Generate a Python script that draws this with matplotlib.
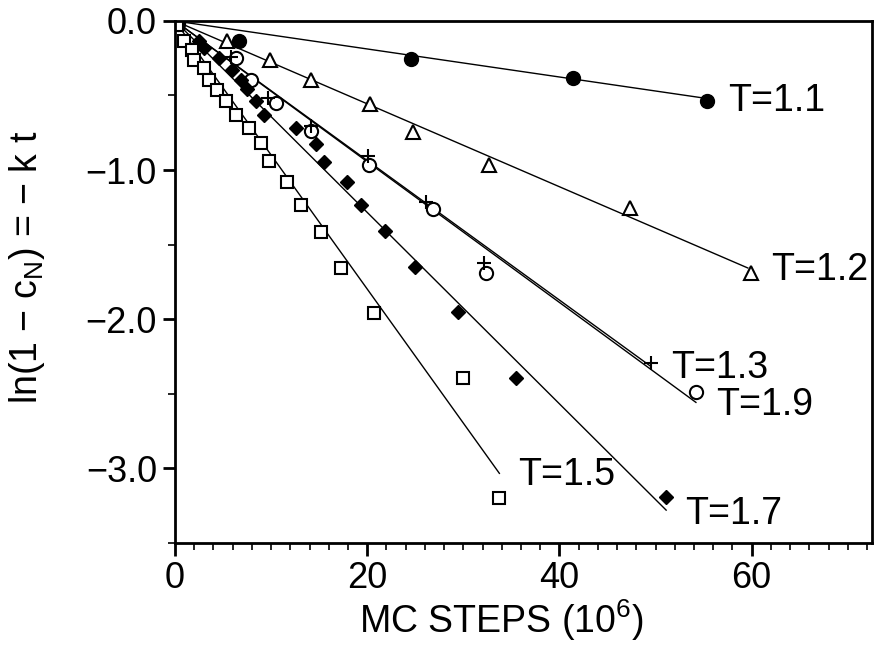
import matplotlib
matplotlib.use('Agg')
import matplotlib.pyplot as plt
from matplotlib.ticker import MultipleLocator, FuncFormatter
import numpy as np

plt.rcParams['font.family'] = ['Liberation Sans', 'DejaVu Sans']
plt.rcParams['mathtext.default'] = 'regular'

# measured points, MC steps (10^6) vs ln(1 - c_N)
t11 = [0.3, 6.7, 24.6, 41.4, 55.4]
y11 = [-0.01, -0.137, -0.253, -0.383, -0.54]

t12 = [0.2, 5.45, 9.86, 14.1, 20.3, 24.8, 32.7, 47.3, 59.97]
y12 = [-0.005, -0.137, -0.264, -0.394, -0.557, -0.745, -0.964, -1.255, -1.69]

t13 = [0.4, 5.8, 9.7, 14.1, 20.1, 26.1, 32.2, 49.5]
y13 = [-0.02, -0.24, -0.52, -0.707, -0.909, -1.211, -1.622, -2.295]

t19 = [0.3, 6.32, 7.89, 10.5, 14.1, 20.2, 26.8, 32.4, 54.2]
y19 = [-0.02, -0.248, -0.394, -0.55, -0.741, -0.964, -1.26, -1.69, -2.486]

t17 = [0.2, 2.5, 3.0, 4.6, 5.97, 6.84, 7.53, 8.4, 9.27, 12.57, 14.66, 15.52,
       17.89, 19.34, 21.88, 25.0, 29.48, 35.52, 51.11]
y17 = [-0.01, -0.137, -0.181, -0.248, -0.327, -0.394, -0.456, -0.54, -0.629,
       -0.718, -0.826, -0.946, -1.077, -1.233, -1.412, -1.647, -1.951, -2.394, -3.19]

t15 = [0.2, 0.94, 1.8, 1.98, 3.02, 3.54, 4.41, 5.28, 6.32, 7.71, 8.93, 9.79,
       11.7, 13.09, 15.18, 17.26, 20.66, 30.0, 33.68]
y15 = [-0.025, -0.137, -0.193, -0.26, -0.315, -0.394, -0.461, -0.54, -0.629,
       -0.718, -0.818, -0.942, -1.077, -1.233, -1.416, -1.654, -1.956, -2.392, -3.198]

# fitted rate constants and where each fit line stops
temps = ['1.1', '1.2', '1.3', '1.9', '1.7', '1.5']
rates = [0.0094, 0.0278, 0.0468, 0.0472, 0.0642, 0.0899]
t_end = [55.4, 59.6, 49.5, 54.2, 51.1, 33.75]

# label anchors (left edge, vertical centre)
label_x = [57.5, 62.05, 51.6, 56.3, 53.1, 35.66]
label_y = [-0.535, -1.67, -2.33, -2.575, -3.31, -3.045]

fig, ax = plt.subplots(figsize=(8.86, 6.54), dpi=100)
fig.subplots_adjust(left=0.1975, right=0.984, top=0.968, bottom=0.17)

for k, te in zip(rates, t_end):
    tt = np.array([0.0, te])
    ax.plot(tt, -k * tt, color='black', lw=1.0)

ax.plot(t11, y11, 'o', ms=10, mfc='black', mec='black', ls='none')
ax.plot(t12, y12, '^', ms=9.5, mfc='white', mec='black', mew=1.5, ls='none')
ax.plot(t19, y19, 'o', ms=9.5, mfc='white', mec='black', mew=1.5, ls='none')
ax.plot(t13, y13, '+', ms=10, mec='black', mew=1.5, ls='none')
ax.plot(t17, y17, 'D', ms=7, mfc='black', mec='black', ls='none')
ax.plot(t15, y15, 's', ms=9, mfc='white', mec='black', mew=1.5, ls='none')

for name, lx, ly in zip(temps, label_x, label_y):
    ax.text(lx, ly, 'T=' + name, fontsize=27, va='center', ha='left')


def minus_fmt(v, pos):
    s = '%.1f' % abs(v)
    return s if v >= 0 else '\u2212' + s


ax.set_xlim(0, 72.5)
ax.set_ylim(-3.5, 0)
ax.xaxis.set_major_locator(MultipleLocator(20))
ax.xaxis.set_minor_locator(MultipleLocator(2))
ax.yaxis.set_major_locator(MultipleLocator(1))
ax.yaxis.set_minor_locator(MultipleLocator(0.5))
ax.yaxis.set_major_formatter(FuncFormatter(minus_fmt))
ax.tick_params(which='major', direction='out', length=9, width=2, labelsize=26, pad=4)
ax.tick_params(which='minor', direction='out', length=5, width=1.2)
for s in ax.spines.values():
    s.set_linewidth(2)

ax.set_xlabel('MC STEPS (10$^6$)', fontsize=27)
ax.set_ylabel('ln(1 \u2212 c$_N$) = \u2212 k t', fontsize=27)
ax.xaxis.set_label_coords(0.468, -0.105)
ax.yaxis.set_label_coords(-0.183, 0.527)

fig.savefig('out.png', dpi=100)
